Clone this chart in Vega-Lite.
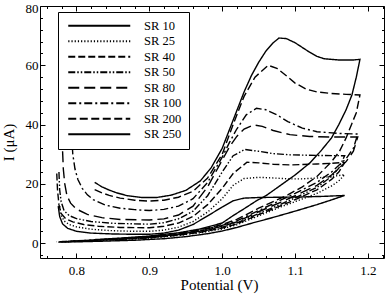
{
"$schema":"https://vega.github.io/schema/vega-lite/v6.json",
"width":344,"height":252,
"autosize":{"type":"none"},
"padding":{"left":40,"top":6,"right":8,"bottom":37},
"data":{"values":[
{"s":"SR 10","x":0.775,"y":12.5},{"s":"SR 10","x":0.777,"y":9},{"s":"SR 10","x":0.781,"y":6.5},{"s":"SR 10","x":0.788,"y":5},{"s":"SR 10","x":0.8,"y":4},{"s":"SR 10","x":0.82,"y":3.4},{"s":"SR 10","x":0.85,"y":3.1},{"s":"SR 10","x":0.88,"y":3.0},{"s":"SR 10","x":0.9,"y":3.0},{"s":"SR 10","x":0.92,"y":3.4},{"s":"SR 10","x":0.94,"y":4.4},{"s":"SR 10","x":0.96,"y":6.3},{"s":"SR 10","x":0.98,"y":9.2},{"s":"SR 10","x":1.0,"y":12.2},{"s":"SR 10","x":1.015,"y":14.3},{"s":"SR 10","x":1.03,"y":15.2},{"s":"SR 10","x":1.05,"y":15.4},{"s":"SR 10","x":1.08,"y":15.5},{"s":"SR 10","x":1.11,"y":15.6},{"s":"SR 10","x":1.14,"y":15.8},{"s":"SR 10","x":1.168,"y":16.1},
{"s":"SR 10","x":1.15,"y":14.6},{"s":"SR 10","x":1.13,"y":13},{"s":"SR 10","x":1.1,"y":10.8},{"s":"SR 10","x":1.07,"y":8.7},{"s":"SR 10","x":1.04,"y":6.7},{"s":"SR 10","x":1.02,"y":5.3},{"s":"SR 10","x":1.0,"y":4.1},{"s":"SR 10","x":0.98,"y":3.2},{"s":"SR 10","x":0.95,"y":2.2},{"s":"SR 10","x":0.92,"y":1.5},{"s":"SR 10","x":0.88,"y":1.0},{"s":"SR 10","x":0.84,"y":0.7},{"s":"SR 10","x":0.8,"y":0.45},{"s":"SR 10","x":0.775,"y":0.35},

{"s":"SR 25","x":0.777,"y":12.5},{"s":"SR 25","x":0.779,"y":9.5},{"s":"SR 25","x":0.783,"y":7.5},{"s":"SR 25","x":0.79,"y":6.3},{"s":"SR 25","x":0.8,"y":5.5},{"s":"SR 25","x":0.82,"y":4.7},{"s":"SR 25","x":0.85,"y":4.2},{"s":"SR 25","x":0.88,"y":4.0},{"s":"SR 25","x":0.9,"y":4.0},{"s":"SR 25","x":0.92,"y":4.4},{"s":"SR 25","x":0.94,"y":5.4},{"s":"SR 25","x":0.96,"y":7.3},{"s":"SR 25","x":0.98,"y":10.5},{"s":"SR 25","x":1.0,"y":15},{"s":"SR 25","x":1.015,"y":19.5},{"s":"SR 25","x":1.03,"y":21.8},{"s":"SR 25","x":1.05,"y":22.2},{"s":"SR 25","x":1.07,"y":22},{"s":"SR 25","x":1.09,"y":21.7},{"s":"SR 25","x":1.11,"y":21.7},{"s":"SR 25","x":1.13,"y":22},{"s":"SR 25","x":1.15,"y":22.5},{"s":"SR 25","x":1.168,"y":23.1},
{"s":"SR 25","x":1.16,"y":21},{"s":"SR 25","x":1.15,"y":19.3},{"s":"SR 25","x":1.13,"y":16.8},{"s":"SR 25","x":1.1,"y":14},{"s":"SR 25","x":1.08,"y":12.2},{"s":"SR 25","x":1.05,"y":9.2},{"s":"SR 25","x":1.02,"y":6.2},{"s":"SR 25","x":1.0,"y":4.8},{"s":"SR 25","x":0.97,"y":3.5},{"s":"SR 25","x":0.94,"y":2.6},{"s":"SR 25","x":0.9,"y":1.7},{"s":"SR 25","x":0.86,"y":1.2},{"s":"SR 25","x":0.82,"y":0.8},{"s":"SR 25","x":0.79,"y":0.5},{"s":"SR 25","x":0.777,"y":0.4},

{"s":"SR 40","x":0.773,"y":23.5},{"s":"SR 40","x":0.774,"y":18},{"s":"SR 40","x":0.776,"y":13},{"s":"SR 40","x":0.779,"y":10},{"s":"SR 40","x":0.785,"y":8.3},{"s":"SR 40","x":0.795,"y":7.2},{"s":"SR 40","x":0.81,"y":6.3},{"s":"SR 40","x":0.83,"y":5.7},{"s":"SR 40","x":0.86,"y":5.3},{"s":"SR 40","x":0.9,"y":5.2},{"s":"SR 40","x":0.92,"y":5.7},{"s":"SR 40","x":0.94,"y":6.8},{"s":"SR 40","x":0.96,"y":9},{"s":"SR 40","x":0.98,"y":13},{"s":"SR 40","x":1.0,"y":18.5},{"s":"SR 40","x":1.015,"y":23.5},{"s":"SR 40","x":1.034,"y":27.3},{"s":"SR 40","x":1.05,"y":27.1},{"s":"SR 40","x":1.07,"y":26.6},{"s":"SR 40","x":1.093,"y":26.4},{"s":"SR 40","x":1.13,"y":26.7},{"s":"SR 40","x":1.168,"y":27.2},
{"s":"SR 40","x":1.16,"y":24},{"s":"SR 40","x":1.15,"y":21.5},{"s":"SR 40","x":1.13,"y":18},{"s":"SR 40","x":1.1,"y":14.7},{"s":"SR 40","x":1.08,"y":12.6},{"s":"SR 40","x":1.05,"y":9.6},{"s":"SR 40","x":1.02,"y":6.5},{"s":"SR 40","x":1.0,"y":5.1},{"s":"SR 40","x":0.97,"y":3.7},{"s":"SR 40","x":0.94,"y":2.7},{"s":"SR 40","x":0.9,"y":1.8},{"s":"SR 40","x":0.86,"y":1.3},{"s":"SR 40","x":0.82,"y":0.9},{"s":"SR 40","x":0.79,"y":0.6},{"s":"SR 40","x":0.773,"y":0.5},

{"s":"SR 50","x":0.776,"y":24},{"s":"SR 50","x":0.777,"y":18},{"s":"SR 50","x":0.779,"y":14},{"s":"SR 50","x":0.783,"y":11},{"s":"SR 50","x":0.79,"y":9.3},{"s":"SR 50","x":0.8,"y":8.3},{"s":"SR 50","x":0.82,"y":7.3},{"s":"SR 50","x":0.85,"y":6.7},{"s":"SR 50","x":0.9,"y":6.4},{"s":"SR 50","x":0.92,"y":6.9},{"s":"SR 50","x":0.94,"y":8.2},{"s":"SR 50","x":0.96,"y":10.8},{"s":"SR 50","x":0.98,"y":16},{"s":"SR 50","x":1.0,"y":24},{"s":"SR 50","x":1.015,"y":29.5},{"s":"SR 50","x":1.031,"y":31.6},{"s":"SR 50","x":1.05,"y":31},{"s":"SR 50","x":1.07,"y":30.2},{"s":"SR 50","x":1.093,"y":29.8},{"s":"SR 50","x":1.13,"y":29.6},{"s":"SR 50","x":1.168,"y":29.5},
{"s":"SR 50","x":1.16,"y":25.3},{"s":"SR 50","x":1.15,"y":22.5},{"s":"SR 50","x":1.13,"y":18.8},{"s":"SR 50","x":1.1,"y":15.3},{"s":"SR 50","x":1.08,"y":13.1},{"s":"SR 50","x":1.05,"y":10},{"s":"SR 50","x":1.02,"y":6.8},{"s":"SR 50","x":1.0,"y":5.4},{"s":"SR 50","x":0.97,"y":3.9},{"s":"SR 50","x":0.94,"y":2.9},{"s":"SR 50","x":0.9,"y":1.9},{"s":"SR 50","x":0.86,"y":1.4},{"s":"SR 50","x":0.82,"y":0.9},{"s":"SR 50","x":0.79,"y":0.6},{"s":"SR 50","x":0.776,"y":0.5},

{"s":"SR 80","x":0.781,"y":31},{"s":"SR 80","x":0.782,"y":25},{"s":"SR 80","x":0.784,"y":20},{"s":"SR 80","x":0.787,"y":16},{"s":"SR 80","x":0.792,"y":13.5},{"s":"SR 80","x":0.8,"y":11.5},{"s":"SR 80","x":0.815,"y":9.7},{"s":"SR 80","x":0.835,"y":8.6},{"s":"SR 80","x":0.86,"y":8},{"s":"SR 80","x":0.9,"y":7.8},{"s":"SR 80","x":0.92,"y":8.2},{"s":"SR 80","x":0.94,"y":9.5},{"s":"SR 80","x":0.96,"y":12.5},{"s":"SR 80","x":0.98,"y":19},{"s":"SR 80","x":1.0,"y":28},{"s":"SR 80","x":1.01,"y":32.5},{"s":"SR 80","x":1.02,"y":36},{"s":"SR 80","x":1.03,"y":38.5},{"s":"SR 80","x":1.043,"y":39.9},{"s":"SR 80","x":1.055,"y":39.4},{"s":"SR 80","x":1.07,"y":38},{"s":"SR 80","x":1.093,"y":36.6},{"s":"SR 80","x":1.12,"y":36},{"s":"SR 80","x":1.15,"y":35.8},{"s":"SR 80","x":1.186,"y":35.8},
{"s":"SR 80","x":1.18,"y":31},{"s":"SR 80","x":1.17,"y":27.5},{"s":"SR 80","x":1.15,"y":23},{"s":"SR 80","x":1.13,"y":19.5},{"s":"SR 80","x":1.1,"y":16},{"s":"SR 80","x":1.08,"y":13.8},{"s":"SR 80","x":1.05,"y":10.6},{"s":"SR 80","x":1.02,"y":7.2},{"s":"SR 80","x":1.0,"y":5.7},{"s":"SR 80","x":0.97,"y":4.1},{"s":"SR 80","x":0.94,"y":3.0},{"s":"SR 80","x":0.9,"y":2.0},{"s":"SR 80","x":0.86,"y":1.4},{"s":"SR 80","x":0.82,"y":1.0},{"s":"SR 80","x":0.79,"y":0.7},{"s":"SR 80","x":0.781,"y":0.6},

{"s":"SR 100","x":0.793,"y":38},{"s":"SR 100","x":0.795,"y":30},{"s":"SR 100","x":0.798,"y":25},{"s":"SR 100","x":0.802,"y":21.5},{"s":"SR 100","x":0.808,"y":18.5},{"s":"SR 100","x":0.815,"y":16.3},{"s":"SR 100","x":0.823,"y":14.7},{"s":"SR 100","x":0.84,"y":12.8},{"s":"SR 100","x":0.86,"y":11.8},{"s":"SR 100","x":0.88,"y":11.3},{"s":"SR 100","x":0.9,"y":11},{"s":"SR 100","x":0.92,"y":11.4},{"s":"SR 100","x":0.94,"y":12.5},{"s":"SR 100","x":0.96,"y":15},{"s":"SR 100","x":0.98,"y":20.5},{"s":"SR 100","x":1.0,"y":29},{"s":"SR 100","x":1.01,"y":34},{"s":"SR 100","x":1.02,"y":38.5},{"s":"SR 100","x":1.033,"y":43.3},{"s":"SR 100","x":1.047,"y":45.5},{"s":"SR 100","x":1.06,"y":45},{"s":"SR 100","x":1.075,"y":43.3},{"s":"SR 100","x":1.09,"y":41},{"s":"SR 100","x":1.11,"y":38.8},{"s":"SR 100","x":1.13,"y":37.6},{"s":"SR 100","x":1.16,"y":37},{"s":"SR 100","x":1.186,"y":36.8},
{"s":"SR 100","x":1.18,"y":32},{"s":"SR 100","x":1.17,"y":28.5},{"s":"SR 100","x":1.15,"y":24},{"s":"SR 100","x":1.13,"y":20.5},{"s":"SR 100","x":1.1,"y":16.8},{"s":"SR 100","x":1.08,"y":14.5},{"s":"SR 100","x":1.05,"y":11},{"s":"SR 100","x":1.02,"y":7.5},{"s":"SR 100","x":1.0,"y":6.0},{"s":"SR 100","x":0.97,"y":4.3},{"s":"SR 100","x":0.94,"y":3.1},{"s":"SR 100","x":0.9,"y":2.1},{"s":"SR 100","x":0.86,"y":1.5},{"s":"SR 100","x":0.82,"y":1.0},{"s":"SR 100","x":0.793,"y":0.7},

{"s":"SR 200","x":0.825,"y":18.1},{"s":"SR 200","x":0.835,"y":17},{"s":"SR 200","x":0.845,"y":16.1},{"s":"SR 200","x":0.86,"y":15.2},{"s":"SR 200","x":0.88,"y":14.5},{"s":"SR 200","x":0.9,"y":14.2},{"s":"SR 200","x":0.92,"y":14.5},{"s":"SR 200","x":0.94,"y":15.5},{"s":"SR 200","x":0.96,"y":17.5},{"s":"SR 200","x":0.98,"y":22},{"s":"SR 200","x":1.0,"y":30},{"s":"SR 200","x":1.015,"y":40},{"s":"SR 200","x":1.03,"y":49.5},{"s":"SR 200","x":1.045,"y":56},{"s":"SR 200","x":1.063,"y":60},{"s":"SR 200","x":1.075,"y":59},{"s":"SR 200","x":1.088,"y":56.5},{"s":"SR 200","x":1.1,"y":54},{"s":"SR 200","x":1.115,"y":52},{"s":"SR 200","x":1.13,"y":51},{"s":"SR 200","x":1.15,"y":50.5},{"s":"SR 200","x":1.17,"y":50.2},{"s":"SR 200","x":1.189,"y":50},
{"s":"SR 200","x":1.184,"y":44},{"s":"SR 200","x":1.178,"y":40.4},{"s":"SR 200","x":1.17,"y":35.5},{"s":"SR 200","x":1.161,"y":31},{"s":"SR 200","x":1.15,"y":27.5},{"s":"SR 200","x":1.13,"y":22.5},{"s":"SR 200","x":1.11,"y":19},{"s":"SR 200","x":1.09,"y":16.3},{"s":"SR 200","x":1.07,"y":14},{"s":"SR 200","x":1.05,"y":11.8},{"s":"SR 200","x":1.02,"y":8},{"s":"SR 200","x":1.0,"y":6.3},{"s":"SR 200","x":0.97,"y":4.5},{"s":"SR 200","x":0.94,"y":3.3},{"s":"SR 200","x":0.9,"y":2.2},{"s":"SR 200","x":0.86,"y":1.6},{"s":"SR 200","x":0.825,"y":1.1},

{"s":"SR 250","x":0.825,"y":20.5},{"s":"SR 250","x":0.835,"y":19},{"s":"SR 250","x":0.845,"y":17.9},{"s":"SR 250","x":0.855,"y":17},{"s":"SR 250","x":0.87,"y":16},{"s":"SR 250","x":0.89,"y":15.4},{"s":"SR 250","x":0.91,"y":15.4},{"s":"SR 250","x":0.93,"y":16.2},{"s":"SR 250","x":0.95,"y":17.8},{"s":"SR 250","x":0.97,"y":21},{"s":"SR 250","x":0.985,"y":25.5},{"s":"SR 250","x":1.0,"y":32},{"s":"SR 250","x":1.015,"y":41.5},{"s":"SR 250","x":1.03,"y":51},{"s":"SR 250","x":1.04,"y":56.5},{"s":"SR 250","x":1.05,"y":61},{"s":"SR 250","x":1.06,"y":64.8},{"s":"SR 250","x":1.07,"y":67.6},{"s":"SR 250","x":1.078,"y":69.2},{"s":"SR 250","x":1.088,"y":69},{"s":"SR 250","x":1.1,"y":67.6},{"s":"SR 250","x":1.11,"y":66},{"s":"SR 250","x":1.12,"y":64.4},{"s":"SR 250","x":1.13,"y":63},{"s":"SR 250","x":1.14,"y":62.2},{"s":"SR 250","x":1.16,"y":61.8},{"s":"SR 250","x":1.18,"y":61.8},{"s":"SR 250","x":1.189,"y":62},
{"s":"SR 250","x":1.184,"y":56},{"s":"SR 250","x":1.178,"y":50},{"s":"SR 250","x":1.17,"y":45},{"s":"SR 250","x":1.16,"y":40},{"s":"SR 250","x":1.15,"y":35.5},{"s":"SR 250","x":1.135,"y":31},{"s":"SR 250","x":1.12,"y":27},{"s":"SR 250","x":1.1,"y":23},{"s":"SR 250","x":1.08,"y":19.5},{"s":"SR 250","x":1.06,"y":16},{"s":"SR 250","x":1.047,"y":14.3},{"s":"SR 250","x":1.03,"y":11.6},{"s":"SR 250","x":1.015,"y":9.3},{"s":"SR 250","x":1.0,"y":6.8},{"s":"SR 250","x":0.97,"y":4.8},{"s":"SR 250","x":0.94,"y":3.5},{"s":"SR 250","x":0.9,"y":2.4},{"s":"SR 250","x":0.86,"y":1.7},{"s":"SR 250","x":0.825,"y":1.2}
]},
"layer":[
{"mark":{"type":"line","color":"black","strokeWidth":1.4,"clip":true},
"encoding":{
"x":{"field":"x","type":"quantitative","scale":{"domain":[0.75,1.222],"nice":false,"zero":false},
"axis":{"title":"Potential (V)","values":[0.76,0.78,0.8,0.82,0.84,0.86,0.88,0.9,0.92,0.94,0.96,0.98,1,1.02,1.04,1.06,1.08,1.1,1.12,1.14,1.16,1.18,1.2,1.22],
"labelExpr":"abs(datum.value*10-round(datum.value*10))<0.001 ? format(datum.value,'.1f') : ''",
"tickSize":{"condition":{"test":"abs(datum.value*10-round(datum.value*10))<0.001","value":-5},"value":-2.5},
"labelPadding":11,"labelOverlap":false,"labelFlush":false,"titleX":179,"titleY":26,"titleBaseline":"middle"}},
"y":{"field":"y","type":"quantitative","scale":{"domain":[-5,80],"nice":false,"zero":false},
"axis":{"title":"I (μA)","values":[-4,0,4,8,12,16,20,24,28,32,36,40,44,48,52,56,60,64,68,72,76,80],
"labelExpr":"datum.value % 20 === 0 ? datum.value : ''",
"tickSize":{"condition":{"test":"datum.value % 20 === 0","value":-5},"value":-2.5},
"labelPadding":7,"labelOverlap":false,"labelFlush":true,"labelFlushOffset":4,"titleX":-32,"titleY":136,"titleBaseline":"middle"}},
"strokeDash":{"field":"s","type":"nominal",
"scale":{"domain":["SR 10","SR 25","SR 40","SR 50","SR 80","SR 100","SR 200","SR 250"],
"range":[[1,0],[1.2,2],[7,3],[7,2,1.5,2,1.5,2],[11,5],[8,3,2,3],[8,3.5],[1,0]]},
"legend":{"orient":"none","legendX":18,"legendY":6,"title":null,"symbolType":"M-12.4,0H12.4","symbolSize":25,"symbolOffset":27.5,"symbolStrokeWidth":2,"symbolStrokeColor":"black","symbolFillColor":"transparent","labelFont":"Liberation Serif","labelFontSize":12.5,"labelColor":"black","labelOffset":38.5,"padding":7.5,"rowPadding":2.5,"strokeColor":"black","fillColor":"white"}},
"order":{"value":null}
}},
{"mark":{"type":"point","opacity":0},
"encoding":{
"x":{"field":"x","type":"quantitative","scale":{"domain":[0.75,1.222],"nice":false,"zero":false},
"axis":{"orient":"top","title":null,"labels":false,"values":[0.76,0.78,0.8,0.82,0.84,0.86,0.88,0.9,0.92,0.94,0.96,0.98,1,1.02,1.04,1.06,1.08,1.1,1.12,1.14,1.16,1.18,1.2,1.22],
"tickSize":{"condition":{"test":"abs(datum.value*10-round(datum.value*10))<0.001","value":-5},"value":-2.5}}},
"y":{"field":"y","type":"quantitative","scale":{"domain":[-5,80],"nice":false,"zero":false},
"axis":{"orient":"right","title":null,"labels":false,"values":[-4,0,4,8,12,16,20,24,28,32,36,40,44,48,52,56,60,64,68,72,76,80],
"tickSize":{"condition":{"test":"datum.value % 20 === 0","value":-5},"value":-2.5}}}
}}
],
"resolve":{"axis":{"x":"independent","y":"independent"}},
"config":{"font":"Liberation Serif","view":{"stroke":"black","strokeWidth":1},
"axis":{"domain":false,"grid":false,"tickColor":"black","labelColor":"black","titleColor":"black","labelFont":"Liberation Serif","titleFont":"Liberation Serif","labelFontSize":13,"titleFontSize":15,"titleFontWeight":"normal"}}
}
